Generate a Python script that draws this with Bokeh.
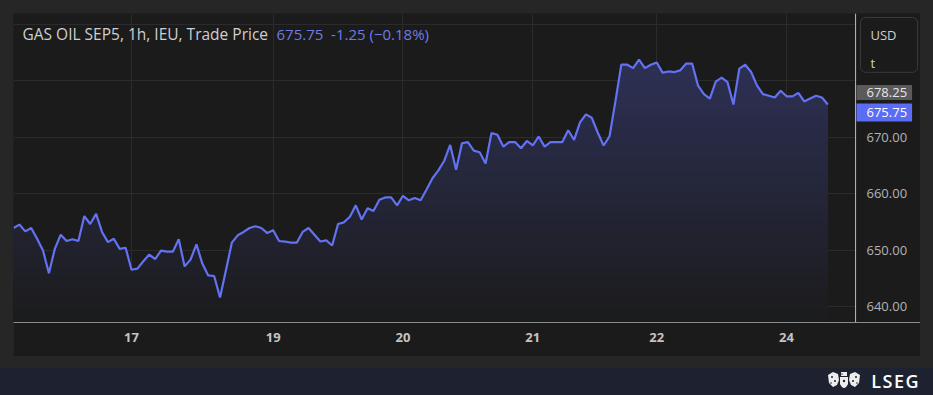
import numpy as np
from bokeh.plotting import figure
from bokeh.models import (Range1d, FixedTicker, NumeralTickFormatter, Label, Span,
                          BoxAnnotation, Div, GlobalInlineStyleSheet)
from bokeh.layouts import column
from bokeh.embed import file_html
from bokeh.resources import INLINE

# ---------------- data ----------------
title_text = "GAS OIL SEP5, 1h, IEU, Trade Price"
quote_text = "675.75\u00a0 -1.25 (\u22120.18%)"
currency_unit = "USD\n\nt"
last_price = 675.75
ref_price = 678.25

prices = [
    653.9, 654.5, 653.3, 653.9, 652.0, 649.9, 645.9, 650.2, 652.7, 651.6,
    651.9, 651.6, 656.0, 654.6, 656.4, 653.2, 651.4, 652.0, 650.2, 650.4,
    646.5, 646.7, 648.0, 649.2, 648.4, 649.9, 649.7, 649.7, 651.9, 647.1,
    648.3, 651.0, 647.6, 645.5, 645.4, 641.6, 646.4, 651.3, 652.6, 653.2,
    653.9, 654.2, 653.9, 653.0, 653.5, 651.6, 651.5, 651.3, 651.3, 653.2,
    653.9, 652.7, 651.5, 651.7, 650.8, 654.6, 654.9, 655.9, 657.9, 655.4,
    657.4, 656.9, 658.9, 659.3, 659.3, 657.9, 659.6, 658.8, 659.2, 658.8,
    660.7, 662.7, 664.1, 665.8, 668.6, 664.2, 668.9, 669.1, 667.6, 667.3,
    665.3, 670.7, 670.4, 668.3, 669.1, 669.1, 668.0, 669.3, 668.5, 670.1,
    668.3, 669.1, 669.1, 669.1, 671.2, 669.5, 672.6, 674.0, 673.4, 670.8,
    668.5, 670.1, 676.3, 682.8, 682.8, 682.2, 683.7, 682.2, 682.8, 683.2,
    681.4, 681.6, 681.5, 681.8, 683.0, 683.0, 679.1, 677.6, 676.8, 679.8,
    680.5, 679.7, 675.75, 682.1, 682.8, 681.5, 679.1, 677.6, 677.3, 677.0,
    678.2, 677.2, 677.2, 677.8, 676.3, 676.8, 677.3, 677.0, 675.75,
]
bar_index = list(range(len(prices)))

day_tick_index = [20, 44, 66, 88, 109, 131]
day_tick_labels = ["17", "19", "20", "21", "22", "24"]
price_label_ticks = [640, 650, 660, 670]
price_grid_ticks = [640, 650, 660, 670, 680, 690]

# ---------------- style ----------------
PANEL = "#1b1b1b"
GRID = "#2b2b2b"
LINE = "#6272f2"
FONT = "Open Sans"

right_pad_bars = 4.7          # empty space right of the last bar
scale_strip_bars = 11.0       # width of the price-scale strip
x_sep = bar_index[-1] + right_pad_bars
x_end = x_sep + scale_strip_bars
y0, y1 = 637.17, 691.86

p = figure(width=907, height=343, output_backend="svg", toolbar_location=None,
           x_range=Range1d(0, x_end), y_range=Range1d(y0, y1),
           y_axis_location="right",
           min_border_left=0, min_border_top=0, min_border_right=0,
           min_border_bottom=34, margin=(13, 13, 0, 13))
p.background_fill_color = PANEL
p.border_fill_color = PANEL
p.outline_line_color = None

# gradient area under the line (absolute vertical gradient)
x = np.array(bar_index, dtype=float)
y = np.array(prices, dtype=float)
g_bottom, g_top = 637.0, 686.0
top_rgb = np.array([46, 49, 87], dtype=float)
bg_rgb = np.array([27, 27, 27], dtype=float)
n_bands = 40
levels = np.linspace(g_bottom, g_top, n_bands + 1)[1:]
for hi in levels[::-1]:
    t = (hi - g_bottom) / (g_top - g_bottom)
    c = bg_rgb + (top_rgb - bg_rgb) * t
    col = "#%02x%02x%02x" % tuple(int(round(v)) for v in c)
    p.varea(x=x, y1=np.full_like(y, y0), y2=np.minimum(y, hi), fill_color=col)

p.line(x, y, line_color=LINE, line_width=2.2)

# price-scale strip (covers grid lines) and separator line
p.add_layout(BoxAnnotation(left=x_sep, fill_color=PANEL, fill_alpha=1.0,
                           line_color=None, level="glyph"))
p.add_layout(Span(location=x_sep, dimension="height", line_color="#bdbdbd",
                  line_width=1))

# grids
p.xgrid.ticker = FixedTicker(ticks=day_tick_index)
p.ygrid.ticker = FixedTicker(ticks=price_grid_ticks)
p.xgrid.grid_line_color = GRID
p.ygrid.grid_line_color = GRID

# axes
xa = p.xaxis[0]
xa.ticker = FixedTicker(ticks=day_tick_index)
xa.major_label_overrides = {i: s for i, s in zip(day_tick_index, day_tick_labels)}
xa.axis_line_color = "#8c8c8c"
xa.major_tick_line_color = None
xa.minor_tick_line_color = None
xa.major_tick_out = 0
xa.major_tick_in = 0
xa.major_label_standoff = 10
xa.major_label_text_font = FONT
xa.major_label_text_font_style = "bold"
xa.major_label_text_font_size = "13px"
xa.major_label_text_color = "#c4c4c4"

ya = p.yaxis[0]
ya.ticker = FixedTicker(ticks=price_label_ticks)
ya.formatter = NumeralTickFormatter(format="0.00")
ya.axis_line_color = None
ya.major_tick_line_color = None
ya.minor_tick_line_color = None
ya.major_tick_out = 0
ya.major_tick_in = 0
ya.major_label_standoff = -54
ya.major_label_text_font = FONT
ya.major_label_text_font_size = "13px"
ya.major_label_text_color = "#b4b4b4"

# header texts
p.add_layout(Label(x=9, y=289, x_units="screen", y_units="screen", text=title_text,
                   text_font=FONT, text_font_size="15.5px", text_color="#cfcfcf",
                   text_baseline="middle"))
p.add_layout(Label(x=263, y=289, x_units="screen", y_units="screen", text=quote_text,
                   text_font=FONT, text_font_size="15px", text_color="#6d7be6",
                   text_baseline="middle"))

# currency box
p.add_layout(Label(x=847, y=691.15, x_units="screen", text=currency_unit,
                   text_font=FONT, text_font_size="13px", text_color="#d0d0d0",
                   text_baseline="top", text_line_height=0.8,
                   padding=dict(left=10, right=21, top=8, bottom=0),
                   border_line_color="#3a3a3a", border_radius=5,
                   background_fill_color=PANEL))

# price tags
p.add_layout(Label(x=843, y=ref_price, x_units="screen", text=f"{ref_price:.2f}",
                   y_offset=-2, text_font=FONT, text_font_size="13px",
                   text_color="#e6e6e6", text_baseline="middle",
                   padding=dict(left=10, right=5, top=3, bottom=3),
                   background_fill_color="#5a5a5a"))
p.add_layout(Label(x=843, y=last_price, x_units="screen", text=f"{last_price:.2f}",
                   y_offset=-8, text_font=FONT, text_font_size="13px",
                   text_color="#ffffff", text_baseline="middle",
                   padding=dict(left=10, right=5, top=4, bottom=5),
                   background_fill_color="#5b6cf5"))

# bottom branding strip
logo_svg = (
    '<svg width="34" height="21" viewBox="0 0 34 21" style="display:block">'
    '<g fill="#ffffff" fill-opacity="0.92">'
    '<path d="M1 4 L6 1 L11 3 L12 9 L10 14 L6 16 L2 12 Z"/>'
    '<path d="M33 4 L28 1 L23 3 L22 9 L24 14 L28 16 L32 12 Z"/>'
    '<path d="M13 6 L21 6 L21 13 Q17 21 13 13 Z"/>'
    '<rect x="14" y="1" width="6" height="4"/>'
    '</g>'
    '<g fill="#1e2230">'
    '<circle cx="5" cy="6" r="1"/><circle cx="8" cy="10" r="1"/>'
    '<circle cx="29" cy="6" r="1"/><circle cx="26" cy="10" r="1"/>'
    '<circle cx="17" cy="10" r="1.2"/><circle cx="15" cy="3" r="0.7"/>'
    '<circle cx="4" cy="12" r="0.8"/><circle cx="30" cy="12" r="0.8"/>'
    '</g></svg>'
)
bar = Div(text='<div style="width:933px;height:27px;display:flex;align-items:center;'
               'justify-content:flex-end;gap:10px;box-sizing:border-box;'
               'padding-right:13px;color:#ffffff;font-family:\'Open Sans\';'
               'font-weight:600;font-size:18px;letter-spacing:1.5px;">'
               + logo_svg + '<span>LSEG</span></div>',
          width=933, height=27, margin=(12, 0, 0, 0),
          styles={"background-color": "#1e2230"})

layout = column(p, bar, spacing=0)
layout.stylesheets = [GlobalInlineStyleSheet(css="body { background-color: #262626; }")]

open("out.html", "w").write(file_html(layout, INLINE))
